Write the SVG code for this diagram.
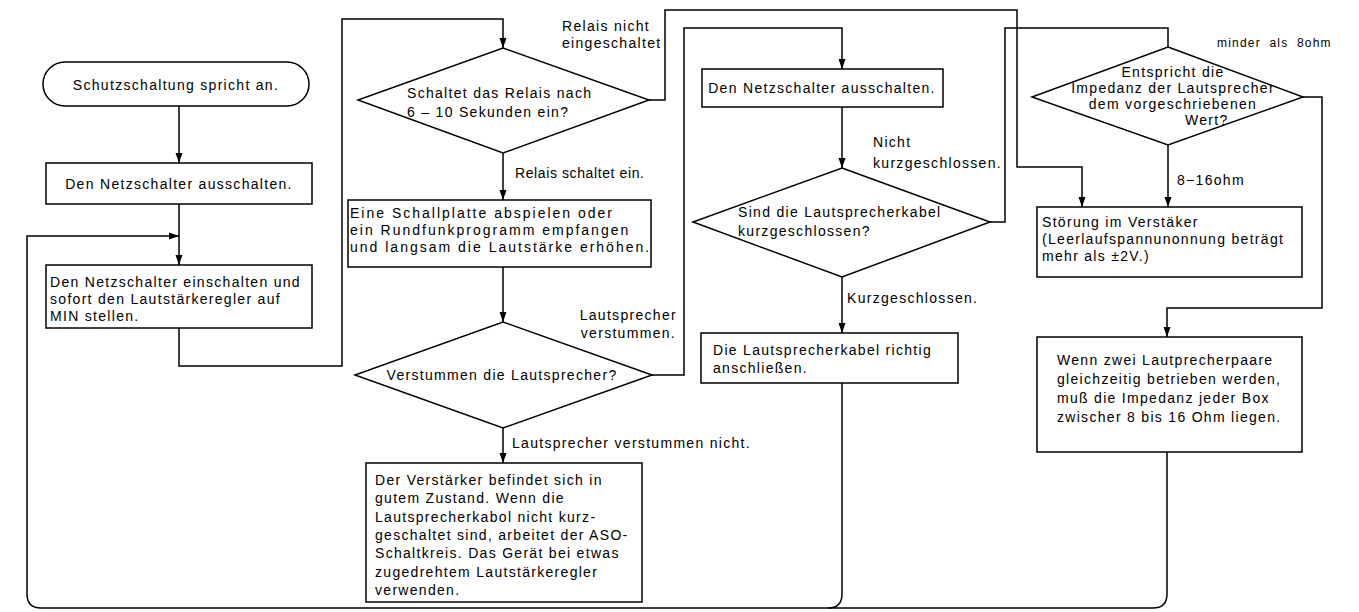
<svg xmlns="http://www.w3.org/2000/svg" width="1359" height="612" viewBox="0 0 1359 612">
<defs>
<marker id="ah" markerUnits="userSpaceOnUse" markerWidth="10" markerHeight="10" viewBox="0 0 10 10" refX="10" refY="5" orient="auto">
<path d="M0,1.5 L10,5 L0,8.5 Z" fill="#000"/>
</marker>
</defs>
<style>
.n{fill:#fff;stroke:#000;stroke-width:1.5}
.t{font-family:"Liberation Sans",Arial,sans-serif;font-size:14px;letter-spacing:1.3px;fill:#000}
.c{text-anchor:middle}
.e{text-anchor:end}
.s{font-size:12px;letter-spacing:1.2px;word-spacing:4px}
.w{letter-spacing:2px}
.nr{letter-spacing:0.6px}
.k{fill:none;stroke:#000;stroke-width:1.5}
.a{marker-end:url(#ah)}
</style>
<rect width="1359" height="612" fill="#fff"/>
<g id="connectors">
<path class="k a" d="M179,106 V163"/>
<path class="k a" d="M179,204 V265"/>
<path class="k a" d="M1167,452 V594 Q1167,608 1153,608 H41 Q27,608 27,594 V236 H179"/>
<path class="k" d="M842,383 V594 Q842,608 828,608"/>
<path class="k a" d="M179,328 V366 H342 V19 H503 V48"/>
<path class="k a" d="M503,153 V200"/>
<path class="k a" d="M503,267 V322"/>
<path class="k a" d="M503,428 V463"/>
<path class="k a" d="M649,100 H665 V10 H1017 V167 H1082 V207"/>
<path class="k a" d="M652,375 H684 V28 H842 V69"/>
<path class="k a" d="M842,107 V168"/>
<path class="k a" d="M842,277 V333"/>
<path class="k" d="M990,222 H1005 V28 H1168 V47"/>
<path class="k a" d="M1168,145 V207"/>
<path class="k a" d="M1303,97 H1322 V308 H1167 V337"/>
</g>
<g id="labels">
<text class="t" x="562" y="31">Relais nicht</text>
<text class="t" x="562" y="48">eingeschaltet</text>
<text class="t nr" x="515" y="178">Relais schaltet ein.</text>
<text class="t e" x="677" y="320">Lautsprecher</text>
<text class="t e" x="676" y="338">verstummen.</text>
<text class="t" x="512" y="448">Lautsprecher verstummen nicht.</text>
<text class="t" x="873" y="147">Nicht</text>
<text class="t" x="873" y="168">kurzgeschlossen.</text>
<text class="t" x="847" y="303">Kurzgeschlossen.</text>
<text class="t s" x="1217" y="47">minder als 8ohm</text>
<text class="t" x="1177" y="185">8−16ohm</text>
</g>
<g id="n1">
<rect class="n" x="43" y="62" width="266" height="44" rx="22"/>
<text class="t c" x="176" y="90">Schutzschaltung spricht an.</text>
</g>
<g id="n2">
<rect class="n" x="46" y="163" width="266" height="41"/>
<text class="t c" x="179" y="189">Den Netzschalter ausschalten.</text>
</g>
<g id="n3">
<rect class="n" x="46" y="265" width="266" height="63"/>
<text class="t" x="50" y="287">Den Netzschalter einschalten und</text>
<text class="t" x="50" y="304">sofort den Lautstärkeregler auf</text>
<text class="t" x="50" y="321">MIN stellen.</text>
</g>
<g id="n4">
<polygon class="n" points="503,48 649,100 503,153 358,100"/>
<text class="t" x="407" y="98">Schaltet das Relais nach</text>
<text class="t" x="407" y="117">6 – 10 Sekunden ein?</text>
</g>
<g id="n5">
<rect class="n" x="348" y="200" width="303" height="67"/>
<text class="t w" x="350" y="218">Eine Schallplatte abspielen oder</text>
<text class="t w" x="350" y="235">ein Rundfunkprogramm empfangen</text>
<text class="t w" x="350" y="252">und langsam die Lautstärke erhöhen.</text>
</g>
<g id="n6">
<polygon class="n" points="503,322 652,375 503,428 355,375"/>
<text class="t c" x="502" y="380">Verstummen die Lautsprecher?</text>
</g>
<g id="n7">
<rect class="n" x="366" y="463" width="276" height="139"/>
<text class="t" x="375" y="485">Der Verstärker befindet sich in</text>
<text class="t" x="375" y="503">gutem Zustand. Wenn die</text>
<text class="t" x="375" y="522">Lautsprecherkabol nicht kurz-</text>
<text class="t" x="375" y="540">geschaltet sind, arbeitet der ASO-</text>
<text class="t" x="375" y="558">Schaltkreis. Das Gerät bei etwas</text>
<text class="t" x="375" y="577">zugedrehtem Lautstärkeregler</text>
<text class="t" x="375" y="595">verwenden.</text>
</g>
<g id="n8">
<rect class="n" x="702" y="69" width="241" height="38"/>
<text class="t c" x="822" y="93">Den Netzschalter ausschalten.</text>
</g>
<g id="n9">
<polygon class="n" points="842,168 990,222 842,277 693,222"/>
<text class="t" x="738" y="217">Sind die Lautsprecherkabel</text>
<text class="t" x="738" y="236">kurzgeschlossen?</text>
</g>
<g id="n10">
<rect class="n" x="701" y="333" width="257" height="50"/>
<text class="t" x="713" y="355">Die Lautsprecherkabel richtig</text>
<text class="t" x="713" y="373">anschließen.</text>
</g>
<g id="n11">
<polygon class="n" points="1168,47 1303,97 1168,145 1032,97"/>
<text class="t c" x="1173" y="77">Entspricht die</text>
<text class="t c" x="1173" y="93">Impedanz der Lautsprecher</text>
<text class="t c" x="1173" y="109">dem vorgeschriebenen</text>
<text class="t" x="1185" y="125">Wert?</text>
</g>
<g id="n12">
<rect class="n" x="1037" y="207" width="265" height="70"/>
<text class="t" x="1042" y="227">Störung im Verstäker</text>
<text class="t" x="1042" y="244">(Leerlaufspannunonnung beträgt</text>
<text class="t" x="1042" y="261">mehr als ±2V.)</text>
</g>
<g id="n13">
<rect class="n" x="1037" y="337" width="265" height="115"/>
<text class="t" x="1057" y="365">Wenn zwei Lautprecherpaare</text>
<text class="t" x="1057" y="384">gleichzeitig betrieben werden,</text>
<text class="t" x="1057" y="403">muß die Impedanz jeder Box</text>
<text class="t" x="1057" y="422">zwischer 8 bis 16 Ohm liegen.</text>
</g>
</svg>
